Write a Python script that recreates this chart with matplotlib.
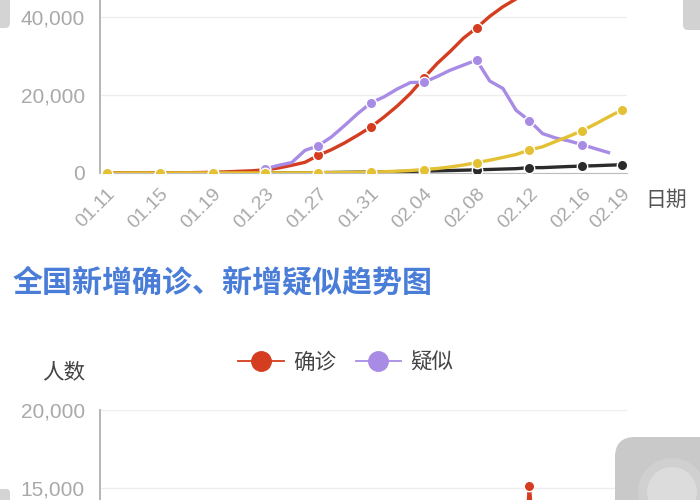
import matplotlib
matplotlib.use('Agg')
import matplotlib.pyplot as plt
from matplotlib.lines import Line2D
from matplotlib.patches import FancyBboxPatch, Circle
import numpy as np

plt.rcParams['font.family'] = ['Liberation Sans', 'Noto Sans CJK SC']

# fechas 01.11 .. 02.19 (un valor por día)
fechas = ['01.11', '01.12', '01.13', '01.14', '01.15', '01.16', '01.17', '01.18', '01.19', '01.20',
          '01.21', '01.22', '01.23', '01.24', '01.25', '01.26', '01.27', '01.28', '01.29', '01.30',
          '01.31', '02.01', '02.02', '02.03', '02.04', '02.05', '02.06', '02.07', '02.08', '02.09',
          '02.10', '02.11', '02.12', '02.13', '02.14', '02.15', '02.16', '02.17', '02.18', '02.19']
etiquetas = ['01.11', '01.15', '01.19', '01.23', '01.27', '01.31', '02.04', '02.08', '02.12', '02.16', '02.19']

# grafico superior: acumulados
confirmados = [41, 41, 41, 41, 41, 45, 62, 121, 198, 291,
               440, 571, 830, 1287, 1975, 2744, 4515, 5974, 7711, 9692,
               11791, 14380, 17205, 20438, 24324, 28018, 31161, 34546, 37198, 40171,
               42638, 44653, 59804, 63851, 66492, 68500, 70548, 72436, 74185, 75002]
sospechosos = [None] * 12 + [1072, 1965, 2684, 5794, 6973, 9239, 12167, 15238,
               17988, 19544, 21558, 23214, 23260, 24702, 26359, 27657, 28942, 23589,
               21675, 16067, 13435, 10109, 8969, 8228, 7264, 6242, 5248, None]
curados = [2, 5, 7, 7, 12, 15, 19, 25, 25, 25,
           28, 28, 34, 38, 49, 51, 60, 103, 124, 171,
           243, 328, 475, 632, 892, 1153, 1540, 2050, 2649, 3281,
           3996, 4740, 5911, 6723, 8096, 9419, 10844, 12552, 14376, 16155]
muertes = [1, 1, 1, 1, 2, 2, 2, 3, 4, 6,
           9, 17, 25, 41, 56, 80, 106, 132, 170, 213,
           259, 304, 361, 425, 490, 563, 636, 722, 811, 908,
           1016, 1113, 1367, 1380, 1523, 1665, 1770, 1868, 2004, 2118]

# grafico inferior: nuevos por dia
nuevos_conf = [0, 0, 0, 0, 0, 4, 17, 59, 77, 77,
               149, 131, 259, 444, 688, 769, 1771, 1459, 1737, 1982,
               2102, 2590, 2829, 3235, 3887, 3694, 3143, 3399, 2656, 3062,
               2478, 2015, 15152, 5090, 2641, 2009, 2048, 1886, 1749, 820]
nuevos_sosp = [None] * 12 + [680, 1118, 1309, 3806, 2077, 3248, 4148, 4812,
               5019, 4562, 5173, 5072, 3971, 5328, 4833, 4214, 3916, 4008,
               3536, 3342, 2807, 2450, 2277, 1918, 1563, 1432, 1185, None]

ROJO = '#d43d1f'
MORADO = '#a88be4'
AMARILLO = '#e3c034'
NEGRO = '#2b2b2b'
GRIS = '#a9a9a9'

x = np.arange(len(fechas))
marcas = [fechas.index(e) for e in etiquetas]
sosp = np.array([np.nan if v is None else v for v in sospechosos], dtype=float)
nsosp = np.array([np.nan if v is None else v for v in nuevos_sosp], dtype=float)

fig = plt.figure(figsize=(7, 5), dpi=100)
W, H = 700, 500
xlim = (-0.53, 39.4)


def estilo(ax, ticks):
    for s in ['top', 'right']:
        ax.spines[s].set_visible(False)
    ax.spines['left'].set_color('#b0b0b0')
    ax.spines['left'].set_linewidth(1.3)
    ax.set_yticks(ticks)
    ax.set_yticklabels(['{:,}'.format(t) for t in ticks])
    ax.tick_params(axis='y', length=0, pad=11, labelsize=15, labelcolor=GRIS)
    ax.grid(axis='y', color='#eeeeee', linewidth=1)
    ax.set_axisbelow(True)
    ax.set_xlim(*xlim)


# ---- grafico superior ----
ax1 = fig.add_axes([100 / W, 1 - 173 / H, 527 / W, 173 / H])
estilo(ax1, [0, 20000, 40000])
ax1.set_ylim(0, 44360)
ax1.spines['bottom'].set_color('#bdbdbd')
kw = dict(lw=2.4, marker='o', ms=7.5, mec='white', mew=1, markevery=marcas, solid_joinstyle='round')
ax1.plot(x, muertes, color=NEGRO, zorder=3, **kw)
ax1.plot(x, confirmados, color=ROJO, zorder=4, **kw)
ax1.plot(x, sosp, color=MORADO, zorder=5, **kw)
ax1.plot(x, curados, color=AMARILLO, zorder=6, **kw)
ax1.set_xticks(marcas)
ax1.set_xticklabels(etiquetas, rotation=45, ha='right', va='top', rotation_mode='anchor')
ax1.tick_params(axis='x', length=0, pad=9, labelsize=14, labelcolor=GRIS)
fig.text(666 / W, 1 - 200 / H, '日期', fontsize=15, color='#555555',
         family=['Noto Sans CJK SC'], ha='center', va='center')

# ---- titulo y leyenda ----
fig.text(13 / W, 1 - 283 / H, '全国新增确诊、新增疑似趋势图', fontsize=21.6, color='#4a7dd8',
         family=['Noto Sans CJK SC'], fontweight='bold', ha='left', va='center')
fig.text(85 / W, 1 - 372 / H, '人数', fontsize=15.5, color='#444444',
         family=['Noto Sans CJK SC'], ha='right', va='center')
h1 = Line2D([], [], color=ROJO, lw=1.3, marker='o', ms=14, mec=ROJO)
h2 = Line2D([], [], color=MORADO, lw=1.3, marker='o', ms=14, mec=MORADO)
fig.legend([h1, h2], ['确诊', '疑似'], loc='center', bbox_to_anchor=(346 / W, 1 - 363 / H),
           ncol=2, frameon=False, handlelength=2.1, handletextpad=0.45, columnspacing=0.9,
           prop={'family': ['Noto Sans CJK SC'], 'size': 15.5}, labelcolor='#444444')

# ---- grafico inferior ----
ax2 = fig.add_axes([100 / W, 0, 527 / W, 90 / H])
estilo(ax2, [15000, 20000])
ax2.set_ylim(14231, 20000)
ax2.spines['bottom'].set_visible(False)
ax2.set_xticks([])
ax2.plot(x, nuevos_conf, color=ROJO, zorder=4, **kw)
ax2.plot(x, nsosp, color=MORADO, zorder=3, **kw)

# ---- elementos de la interfaz (capturas) ----
ov = fig.add_axes([0, 0, 1, 1], zorder=10)
ov.set_xlim(0, W)
ov.set_ylim(H, 0)
ov.axis('off')
ov.patch.set_alpha(0)
ov.add_patch(FancyBboxPatch((-20, -20), 30, 48, boxstyle='round,pad=0,rounding_size=5',
                            fc='#d4d4d4', ec='none'))
ov.add_patch(FancyBboxPatch((683, -20), 40, 50, boxstyle='round,pad=0,rounding_size=5',
                            fc='#d2d2d2', ec='none'))
ov.add_patch(FancyBboxPatch((-20, 489), 30, 30, boxstyle='round,pad=0,rounding_size=4',
                            fc='#d4d4d4', ec='none'))
ov.add_patch(FancyBboxPatch((615, 437), 110, 90, boxstyle='round,pad=0,rounding_size=20',
                            fc='#c9c9c9', ec='none'))
ov.add_patch(Circle((672, 492), 34, fc='#d0d0d0', ec='none'))
ov.add_patch(Circle((672, 492), 25, fc='#dcdcdc', ec='none'))

fig.savefig('out.png', dpi=100)
